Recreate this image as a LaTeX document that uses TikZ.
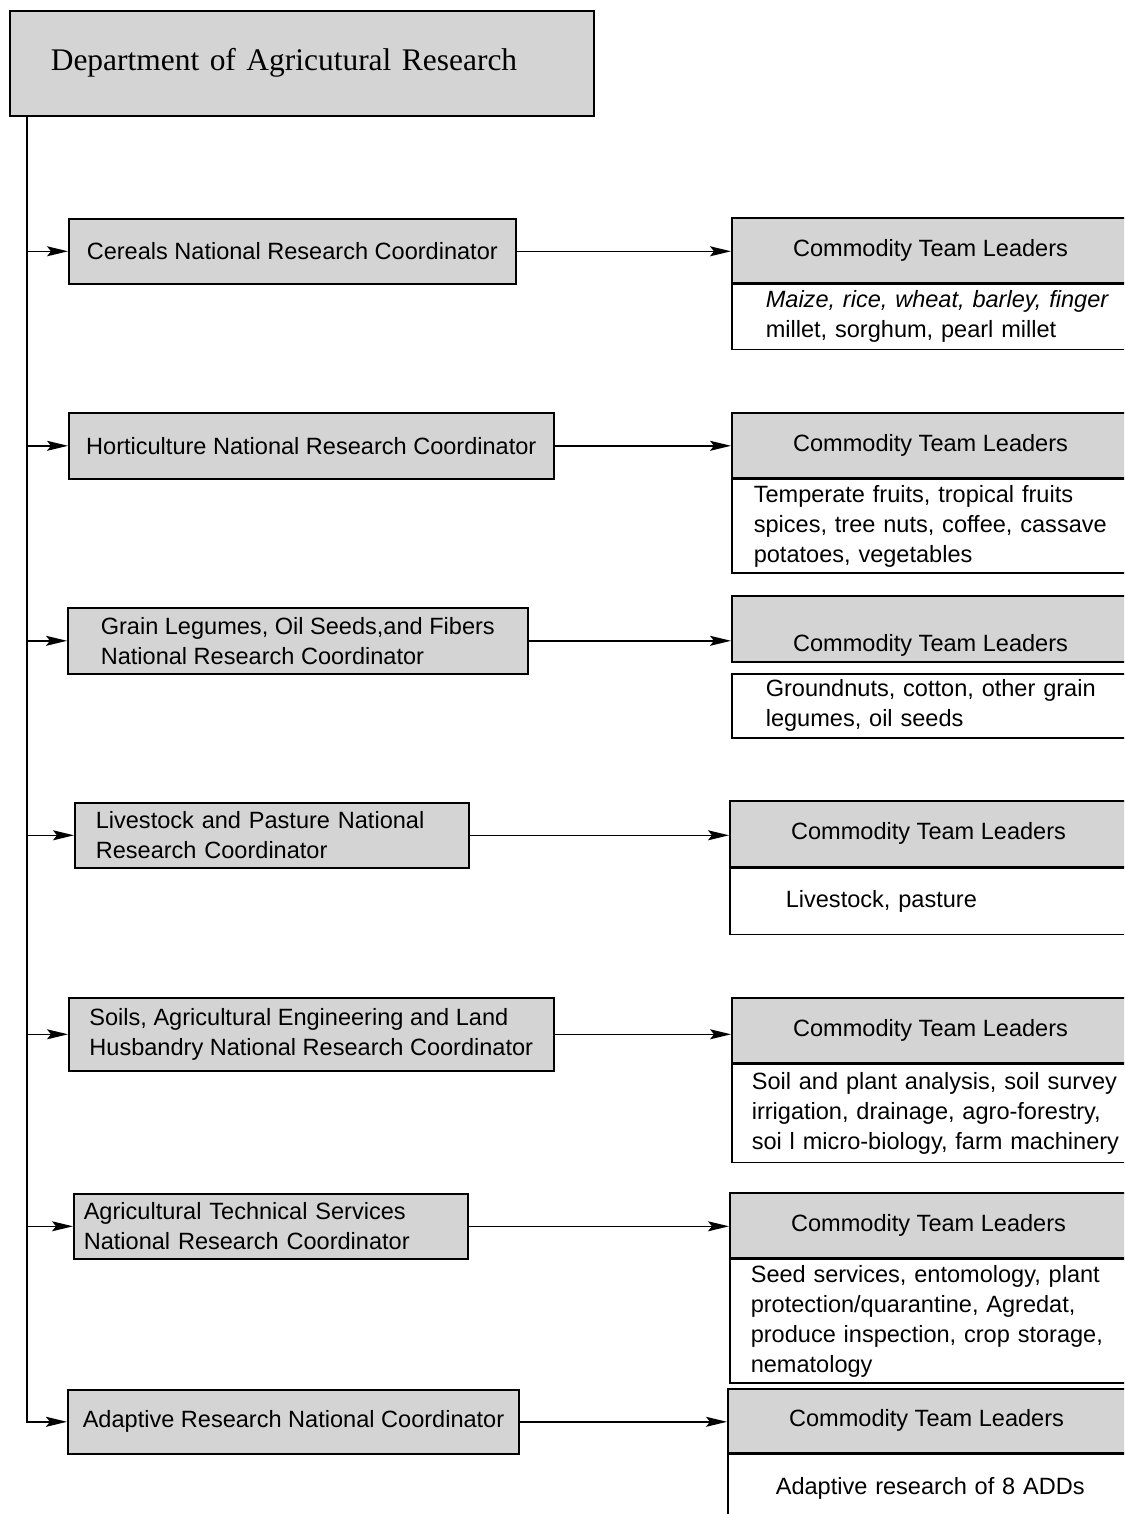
\documentclass[tikz,border=0pt]{standalone}
\usepackage{fontspec}
\setmainfont{Liberation Sans}
\newfontfamily\titlefont{Liberation Serif}
\usetikzlibrary{arrows.meta}
\tikzset{
  shade box/.style={draw,line width=0.9pt,fill=black!17},
  nrc/.style={shade box,anchor=north west,align=left,inner xsep=0.3cm,
              font=\fontsize{13.4}{17.1}\selectfont},
  ctl/.style={shade box,anchor=north west,minimum width=7.95cm,align=center,
              font=\fontsize{13.4}{17.1}\selectfont},
  crops/.style={draw,line width=0.9pt,fill=white,anchor=north west,align=left,
              text width=7.8cm,font=\fontsize{13.4}{17.1}\selectfont},
  feed/.style={line width=0.8pt,-{Stealth[length=0.42cm,width=0.2cm,inset=0.08cm]}}
}

\begin{document}
\begin{tikzpicture}
\useasboundingbox (0,0) rectangle (22.48,-30.28);
\clip (0,0) rectangle (22.48,-30.28);

% department
\node[shade box,anchor=north west,minimum width=11.68cm,minimum height=2.1cm,
      text width=10.04cm,inner xsep=0.82cm,font=\titlefont\fontsize{17.9}{22}\selectfont]
      (dar) at (0.18,-0.2) {Department of Agricutural Research};
\coordinate (top) at (0.54,-2.3);

% national research coordinators
\node[nrc,minimum width=8.94cm,minimum height=1.3cm] (cer) at (1.36,-4.36)
  {Cereals National Research Coordinator};
\node[nrc,minimum width=9.7cm,minimum height=1.32cm] (hort) at (1.36,-8.24)
  {Horticulture National Research Coordinator};
\node[nrc,minimum width=9.2cm,minimum height=1.32cm] (grain) at (1.34,-12.14)
  {Grain Legumes, Oil Seeds,and Fibers\\National Research Coordinator};
\node[nrc,minimum width=7.88cm,minimum height=1.3cm,text width=7.04cm,inner xsep=0.42cm] (live) at (1.48,-16.04)
  {Livestock and Pasture National\\Research Coordinator};
\node[nrc,minimum width=9.7cm,minimum height=1.46cm] (soil) at (1.36,-19.94)
  {Soils, Agricultural Engineering and Land\\Husbandry National Research Coordinator};
\node[nrc,minimum width=7.88cm,minimum height=1.3cm,text width=7.48cm,inner xsep=0.2cm] (tech) at (1.46,-23.86)
  {Agricultural Technical Services\\National Research Coordinator};
\node[nrc,minimum width=9cm,minimum height=1.28cm] (adapt) at (1.34,-27.78)
  {Adaptive Research National Coordinator};

% commodity team leaders
\node[ctl,minimum height=1.3cm] (h1) at (14.62,-4.34) {Commodity Team Leaders};
\node[ctl,minimum height=1.3cm] (h2) at (14.62,-8.24) {Commodity Team Leaders};
\node[ctl,minimum height=1.3cm,text height=0.99cm,text depth=0.1cm] (h3) at (14.62,-11.9) {Commodity Team Leaders};
\node[ctl,minimum height=1.32cm] (h4) at (14.58,-16) {Commodity Team Leaders};
\node[ctl,minimum height=1.3cm] (h5) at (14.62,-19.94) {Commodity Team Leaders};
\node[ctl,minimum height=1.3cm] (h6) at (14.58,-23.84) {Commodity Team Leaders};
\node[ctl,minimum height=1.28cm] (h7) at (14.54,-27.76) {Commodity Team Leaders};

% commodities
\node[crops,minimum height=1.3cm,inner xsep=0.68cm] (b1) at (h1.south west)
  {\textit{Maize, rice, wheat, barley, finger}\\millet, sorghum, pearl millet};
\node[crops,minimum height=1.7cm,inner xsep=0.44cm] (b2) at (h2.south west)
  {Temperate fruits, tropical fruits\\spices, tree nuts, coffee, cassave\\potatoes, vegetables};
\node[crops,minimum height=1.28cm,inner xsep=0.68cm] (b3) at (14.62,-13.46)
  {Groundnuts, cotton, other grain\\legumes, oil seeds};
\node[crops,minimum height=1.32cm,inner xsep=1.12cm] (b4) at (h4.south west)
  {Livestock, pasture};
\node[crops,minimum height=1.96cm,inner xsep=0.4cm] (b5) at (h5.south west)
  {Soil and plant analysis, soil survey\\irrigation, drainage, agro-forestry,\\soi l micro-biology, farm machinery};
\node[crops,minimum height=2.36cm,inner xsep=0.42cm] (b6) at (h6.south west)
  {Seed services, entomology, plant\\protection/quarantine, Agredat,\\produce inspection, crop storage,\\nematology};
\node[crops,minimum height=1.36cm,inner xsep=0.96cm] (b7) at (h7.south west)
  {Adaptive research of 8 ADDs};

% trunk and branches
\draw[feed,line width=1.2pt] (top) |- (adapt.west);
\foreach \n in {cer,hort,grain,live,soil,tech}
  \draw[feed] (top |- \n.west) -- (\n.west);
\foreach \a/\b in {cer/h1,hort/h2,grain/h3,live/h4,soil/h5,tech/h6,adapt/h7}
  \draw[feed] (\a.east) -- (\b.west |- \a.east);
\end{tikzpicture}
\end{document}
